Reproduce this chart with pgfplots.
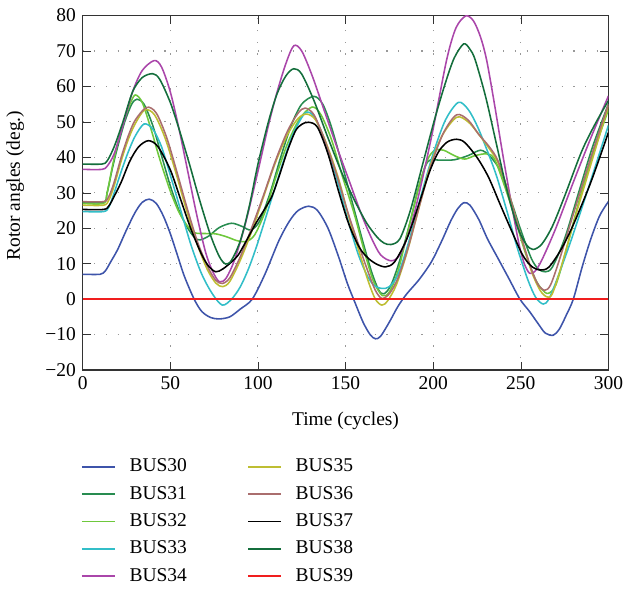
\documentclass[border=0pt]{standalone}
\usepackage{fontspec}
\setmainfont{Liberation Serif}
\usepackage{pgfplots}
\pgfplotsset{compat=1.18}

\definecolor{c30}{RGB}{62,84,170}
\definecolor{c31}{RGB}{40,140,80}
\definecolor{c32}{RGB}{110,200,60}
\definecolor{c33}{RGB}{50,190,200}
\definecolor{c34}{RGB}{170,70,170}
\definecolor{c35}{RGB}{190,190,50}
\definecolor{c36}{RGB}{170,110,110}
\definecolor{c37}{RGB}{0,0,0}
\definecolor{c38}{RGB}{20,110,60}
\definecolor{c39}{RGB}{240,30,30}

\begin{document}
\begin{tikzpicture}
\begin{axis}[
    scale only axis,
    width=270pt, height=182pt,
    xmin=0, xmax=300, ymin=-20, ymax=80,
    xtick={0,50,...,300},
    ytick={-20,-10,...,80},
    yticklabels={−20,−10,0,10,20,30,40,50,60,70,80},
    /pgf/number format/assume math mode=true,
    xticklabel style={inner xsep=0pt},
    grid=major,
    grid style={gray!80, line width=0.6pt, dash pattern=on 0.6pt off 5.4pt},
    axis line style={black!80, line width=0.6pt},
    tick style={black!80},
    xlabel={Time (cycles)},
    ylabel={Rotor angles (deg.)},
    xlabel style={at={(axis description cs:0.5,-0.145)}, anchor=center},
    ylabel style={at={(axis description cs:-0.128,0.52)}, anchor=center},
    every axis plot/.append style={line width=0.8pt, smooth},
    legend columns=2,
    legend cell align=left,
    legend style={at={(0,0)}, anchor=north west, xshift=-4pt, yshift=-41.5pt,
        draw=none, fill=none, row sep=1.9pt,
        /tikz/every odd column/.append style={column sep=5pt},
        /tikz/every even column/.append style={column sep=29pt}},
]
% BUS30
\addplot[c30, forget plot] coordinates {
(0,7)(10,7)(13,8)(16,10.5)(20,14)(25,19.5)(30,24.5)(34,27.3)(38,28.2)(42,27)(46,23.5)(50,18.5)(54,12.5)(58,6.5)(63.6,0)(68,-3.5)(73,-5.2)(78,-5.6)(84,-5)(90,-2.8)(96.8,0)(104,7)(112,16.5)(118,22)(123,25)(129,26.2)(134,25)(140,20)(146,12)(151,4.5)(155,-0.5)(160,-6.5)(164,-10)(167,-11.2)(170,-10.5)(175,-6.5)(180,-2)(185,1.5)(192,5.5)(199,10.5)(205,16.5)(210,22)(214,25.5)(217.6,27.2)(221,26.5)(226,22.5)(231,17)(237,11.5)(243,6)(249.5,0)(255,-3.5)(260,-7)(264,-9.6)(268.5,-10.2)(272,-8.5)(276,-4.5)(280,0)(285,9)(290,17)(295,23.5)(300,27.5)
};
% BUS31
\addplot[c31, forget plot] coordinates {
(0,27.3)(12,27.3)(14,30)(17,37)(20,43)(24,50)(28,55)(31,56.4)(35,55)(40,49)(45,40.5)(50,32)(55,25)(60,20)(64,17.3)(67,16.7)(72,17.8)(78,20.2)(85,21.4)(91,20.5)(96,19.5)(101,22)(107,30)(113,40)(119,49)(125,55)(132,57.2)(137,55)(142,48.5)(148,38)(154,27)(160,16)(165,7.5)(169,2.5)(172,1.5)(176,4)(181,11)(187,22)(192,32)(197,38.8)(204,39.2)(212,39.3)(220,40.5)(227,42)(232,40.5)(238,36.5)(244,28.5)(250,19.5)(256,11.5)(260,8.5)(264,7.7)(268,9)(275,17)(283,30)(291,43)(300,55)
};
% BUS32
\addplot[c32, forget plot] coordinates {
(0,27)(12,27)(14,30)(17,37.5)(20,44)(24,51)(27,55)(30,57.6)(34,55.5)(39,48)(44,39.5)(50,30.5)(55,24.5)(60,20.5)(64,18.7)(70,18.5)(76,18.4)(82,17.6)(88,16.5)(93,16.2)(98,18)(104,24.5)(110,34)(117,44)(124,51)(131,54.2)(136,52)(142,45)(148,35)(155,24)(161,13)(166,5)(171,1)(175,2)(180,8)(186,20)(192,32)(197,39.5)(201,42)(206,42)(212,40.5)(218,39.5)(224,40.5)(231,41)(235,39.5)(240,33)(246,24)(252,14)(258,6)(262,2.8)(265.6,1.6)(270,4)(276,14)(284,29)(292,42)(300,53.4)
};
% BUS33
\addplot[c33, forget plot] coordinates {
(0,24.7)(12,24.7)(15,26)(18,30)(22,36)(26,41.5)(30,46)(35,49.4)(40,48)(45,43)(50,35)(56,25)(62,15)(68,7)(74,1.5)(79.7,-1.7)(85,0)(90,3.5)(95,9)(100,16)(107,27)(114,38)(120,46.5)(127,52.5)(132,51.5)(138,45)(145,34)(151,23)(157,13)(162,7)(166,4)(170.7,3)(175,3.5)(180,7)(186,16)(193,29)(200,41)(207,50.5)(214.4,55.5)(220,53.5)(225,49)(230,43)(236,35)(242,25)(248,14.5)(254,5.5)(258.5,0.5)(262.8,-1.4)(266,0)(271,6)(279,17)(289,32)(300,49)
};
% BUS34
\addplot[c34, forget plot] coordinates {
(0,36.6)(11,36.6)(14,37.5)(18,41)(23,49)(28.5,58.5)(34,64.5)(40.8,67.3)(45,65.5)(50,58.5)(55,48)(60,36)(65,24)(70,13.5)(74,8)(78,4.9)(82,6)(87,11.5)(93,21.5)(100,36)(106,49)(111,58.5)(116,66.5)(120.5,71.5)(125,70)(131,63)(138,53)(145,43)(152,33.5)(159,24)(165,17)(170,12.5)(176,10.8)(181,12.5)(187,20)(193,32)(200,48)(207.7,67.5)(213,76.5)(218.6,79.9)(223,78.5)(227,74)(230.5,67.5)(235,55)(240,40)(245,26)(249,15.5)(252,10)(255,7.3)(258,7.8)(262,11)(270,20)(280,33)(290,45.5)(300,57.3)
};
% BUS35
\addplot[c35, forget plot] coordinates {
(0,26.5)(12,26.5)(15,28)(18,32)(22,39)(26,45)(30,49.5)(35.5,53.4)(41,52)(47,45.5)(53,36)(59,25.5)(65,16)(71,8.5)(76,4.5)(80,3.5)(84,5)(90,11)(96,18.5)(103,28.5)(110,38.5)(117,46.5)(123,51)(128,52.2)(133,50.5)(139,44)(146,34)(152,23)(158,13)(163,5)(167,0)(170.7,-1.7)(174,-0.5)(179,4)(185,13)(191,24)(198,37)(205,46)(213.4,51.3)(220,50)(226,46.5)(232,42.5)(237,38.5)(243,30)(250,18)(256,8)(261,2.5)(265,0.6)(268,1.5)(273,9)(281,23)(290,38)(300,54.5)
};
% BUS36
\addplot[c36, forget plot] coordinates {
(0,27.5)(12,27.5)(15,29)(18,33)(22,40)(26,46)(30,50.5)(36.5,54.1)(42,52.5)(48,45.5)(54,35.5)(60,25)(66,15.5)(72,8.5)(76,5.3)(79.7,4.4)(84,6)(90,12)(96,19.5)(103,29)(110,39)(117,47.5)(123,52.5)(127,53.9)(132,52)(138,45)(145,35)(151,25)(157,16)(163,7.5)(167,2.5)(170.7,0.2)(175,1.5)(180,6)(186,15)(192,26)(199,38)(206,47)(213.4,52)(220,50.5)(226,46.5)(232,43)(237,39)(243,30)(250,18)(256,8.5)(260,4)(263.7,2.5)(267,4)(272,11)(280,24)(290,40)(300,55)
};
% BUS37
\addplot[c37, forget plot] coordinates {
(0,25.3)(12,25.3)(15,26.3)(18,29)(22,33)(27,39)(32,43)(37.6,44.7)(43,43)(50,36.5)(56,28)(62,19.5)(68,12.5)(72,9.2)(76,7.7)(80,8.5)(85,10.5)(89,12.6)(94,17)(99,21.5)(104,25.5)(108,29)(112,34.5)(117,42)(121.5,47.5)(125,49.3)(129,49.9)(134,48.5)(140,41)(146,30.5)(152,21)(158,14.5)(163,11.5)(168,9.8)(173,9.1)(178,10.5)(185,17)(192,27)(198,36)(203,41.5)(208,44.3)(213.4,45.1)(218,44.2)(225,40)(231.5,34.5)(238,27)(245,19)(251,12.5)(256,9.3)(261,8.2)(266,9)(273,14)(280,21)(290,33)(300,47)
};
% BUS38
\addplot[c38, forget plot] coordinates {
(0,38.1)(11,38.1)(14,39)(18,43)(23,50)(28.5,58.5)(34,62.5)(40,63.6)(44,62)(50,55.5)(55,48)(61,38)(67,27.5)(73,18)(78,12)(81.6,9.9)(85,11)(90,16.5)(95,26)(100,38)(106,50)(111,58)(116,63)(120.5,65)(125,63.5)(132,56)(140,45.5)(148,35.5)(155,28)(162,21.5)(168,17.5)(172,15.8)(176,15.4)(181,17)(187,25)(194,38)(201,51)(207,61)(212,68)(217.4,72)(221,70.5)(224,67.5)(230,57)(236,44)(242,31)(248,20.5)(253,15.5)(257,14)(262,15.5)(268,20.5)(275,29)(284.6,41.5)(292,49)(300,56)
};
% BUS39
\addplot[c39, forget plot] coordinates {(0,0)(300,0)};

\addlegendimage{c30, line width=0.8pt}\addlegendentry{BUS30}
\addlegendimage{c35, line width=0.8pt}\addlegendentry{BUS35}
\addlegendimage{c31, line width=0.8pt}\addlegendentry{BUS31}
\addlegendimage{c36, line width=0.8pt}\addlegendentry{BUS36}
\addlegendimage{c32, line width=0.8pt}\addlegendentry{BUS32}
\addlegendimage{c37, line width=0.8pt}\addlegendentry{BUS37}
\addlegendimage{c33, line width=0.8pt}\addlegendentry{BUS33}
\addlegendimage{c38, line width=0.8pt}\addlegendentry{BUS38}
\addlegendimage{c34, line width=0.8pt}\addlegendentry{BUS34}
\addlegendimage{c39, line width=0.8pt}\addlegendentry{BUS39}
\end{axis}
\path ([yshift=8pt]current axis.north west);
\end{tikzpicture}
\end{document}
